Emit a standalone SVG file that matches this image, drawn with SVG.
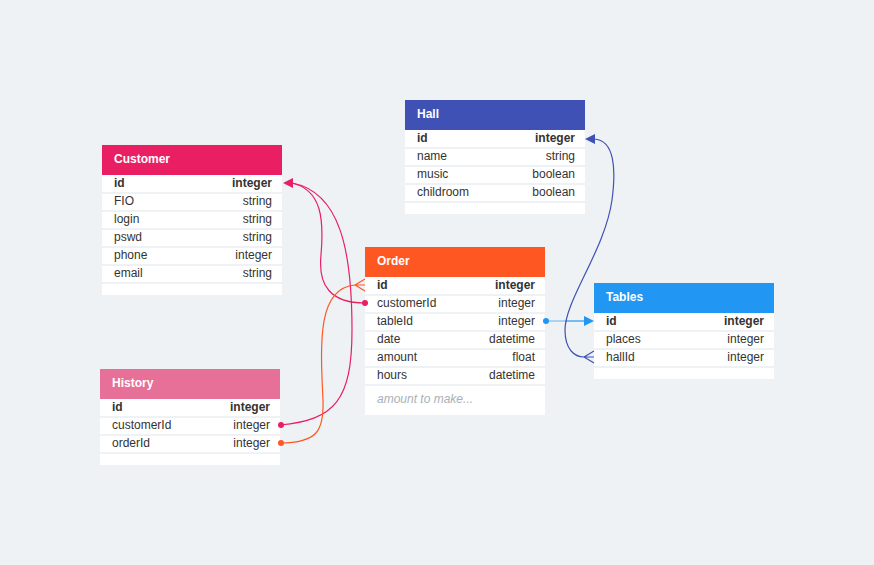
<svg xmlns="http://www.w3.org/2000/svg" width="874" height="565" viewBox="0 0 874 565">
<style>
text{font-family:"Liberation Sans",Arial,sans-serif;font-size:12px}
.body{fill:#ffffff}
.sep{stroke:#eef2f5;stroke-width:2}
.title{fill:#ffffff;font-weight:bold}
.f{fill:#333333}
.t{fill:#333333;text-anchor:end}
.pk{font-weight:bold}
.note{fill:#a9b0b8;font-style:italic}
.conn{fill:none;stroke-width:1.2}
</style>
<rect width="874" height="565" fill="#eef2f5"/>

<g id="customer">
<rect class="body" x="102" y="175" width="180" height="120"/>
<rect x="102" y="145" width="180" height="30" fill="#e91e63"/>
<text class="title" x="114" y="163">Customer</text>
<line class="sep" x1="102" y1="193" x2="282" y2="193"/>
<line class="sep" x1="102" y1="211" x2="282" y2="211"/>
<line class="sep" x1="102" y1="229" x2="282" y2="229"/>
<line class="sep" x1="102" y1="247" x2="282" y2="247"/>
<line class="sep" x1="102" y1="265" x2="282" y2="265"/>
<line class="sep" x1="102" y1="283" x2="282" y2="283"/>
<text class="f pk" x="114" y="187">id</text><text class="t pk" x="272" y="187">integer</text>
<text class="f" x="114" y="205">FIO</text><text class="t" x="272" y="205">string</text>
<text class="f" x="114" y="223">login</text><text class="t" x="272" y="223">string</text>
<text class="f" x="114" y="241">pswd</text><text class="t" x="272" y="241">string</text>
<text class="f" x="114" y="259">phone</text><text class="t" x="272" y="259">integer</text>
<text class="f" x="114" y="277">email</text><text class="t" x="272" y="277">string</text>
</g>

<g id="hall">
<rect class="body" x="405" y="130" width="180" height="84"/>
<rect x="405" y="100" width="180" height="30" fill="#3f51b5"/>
<text class="title" x="417" y="118">Hall</text>
<line class="sep" x1="405" y1="148" x2="585" y2="148"/>
<line class="sep" x1="405" y1="166" x2="585" y2="166"/>
<line class="sep" x1="405" y1="184" x2="585" y2="184"/>
<line class="sep" x1="405" y1="202" x2="585" y2="202"/>
<text class="f pk" x="417" y="142">id</text><text class="t pk" x="575" y="142">integer</text>
<text class="f" x="417" y="160">name</text><text class="t" x="575" y="160">string</text>
<text class="f" x="417" y="178">music</text><text class="t" x="575" y="178">boolean</text>
<text class="f" x="417" y="196">childroom</text><text class="t" x="575" y="196">boolean</text>
</g>

<g id="order">
<rect class="body" x="365" y="277" width="180" height="138"/>
<rect x="365" y="247" width="180" height="30" fill="#ff5722"/>
<text class="title" x="377" y="265">Order</text>
<line class="sep" x1="365" y1="295" x2="545" y2="295"/>
<line class="sep" x1="365" y1="313" x2="545" y2="313"/>
<line class="sep" x1="365" y1="331" x2="545" y2="331"/>
<line class="sep" x1="365" y1="349" x2="545" y2="349"/>
<line class="sep" x1="365" y1="367" x2="545" y2="367"/>
<line class="sep" x1="365" y1="385" x2="545" y2="385"/>
<text class="f pk" x="377" y="289">id</text><text class="t pk" x="535" y="289">integer</text>
<text class="f" x="377" y="307">customerId</text><text class="t" x="535" y="307">integer</text>
<text class="f" x="377" y="325">tableId</text><text class="t" x="535" y="325">integer</text>
<text class="f" x="377" y="343">date</text><text class="t" x="535" y="343">datetime</text>
<text class="f" x="377" y="361">amount</text><text class="t" x="535" y="361">float</text>
<text class="f" x="377" y="379">hours</text><text class="t" x="535" y="379">datetime</text>
<text class="note" x="377" y="403">amount to make...</text>
</g>

<g id="tables">
<rect class="body" x="594" y="313" width="180" height="66"/>
<rect x="594" y="283" width="180" height="30" fill="#2196f3"/>
<text class="title" x="606" y="301">Tables</text>
<line class="sep" x1="594" y1="331" x2="774" y2="331"/>
<line class="sep" x1="594" y1="349" x2="774" y2="349"/>
<line class="sep" x1="594" y1="367" x2="774" y2="367"/>
<text class="f pk" x="606" y="325">id</text><text class="t pk" x="764" y="325">integer</text>
<text class="f" x="606" y="343">places</text><text class="t" x="764" y="343">integer</text>
<text class="f" x="606" y="361">hallId</text><text class="t" x="764" y="361">integer</text>
</g>

<g id="history">
<rect class="body" x="100" y="399" width="180" height="66"/>
<rect x="100" y="369" width="180" height="30" fill="#e67098"/>
<text class="title" x="112" y="387">History</text>
<line class="sep" x1="100" y1="417" x2="280" y2="417"/>
<line class="sep" x1="100" y1="435" x2="280" y2="435"/>
<line class="sep" x1="100" y1="453" x2="280" y2="453"/>
<text class="f pk" x="112" y="411">id</text><text class="t pk" x="270" y="411">integer</text>
<text class="f" x="112" y="429">customerId</text><text class="t" x="270" y="429">integer</text>
<text class="f" x="112" y="447">orderId</text><text class="t" x="270" y="447">integer</text>
</g>

<g id="connectors">
<!-- Order.customerId -> Customer.id -->
<path class="conn" stroke="#e91e63" d="M365,303 C330,303 318,285 321,255 C324,220 322,190 292,183"/>
<circle cx="365" cy="303" r="3" fill="#e91e63"/>
<!-- History.customerId -> Customer.id -->
<path class="conn" stroke="#e91e63" d="M280,425 C335,420 352,400 352,330 C352,250 340,192 292,183"/>
<circle cx="281" cy="425" r="3" fill="#e91e63"/>
<polygon points="283,183 293,178 293,188" fill="#e91e63"/>
<!-- History.orderId -> Order.id -->
<path class="conn" stroke="#ff5722" d="M280,443 C318,443 324,430 323,400 C320,340 318,288 355,285"/>
<circle cx="281" cy="443" r="3" fill="#ff5722"/>
<path class="conn" stroke="#ff5722" d="M355,285 L365,279 M355,285 L365,285 M355,285 L365,291"/>
<!-- Order.tableId -> Tables.id -->
<path class="conn" stroke="#7fbdf5" stroke-width="1.5" d="M545,321 L565,321"/>
<path class="conn" stroke="#2196f3" stroke-width="1.5" d="M565,321 L585,321"/>
<circle cx="546" cy="321" r="3" fill="#2196f3"/>
<polygon points="594,321 584,316 584,326" fill="#2196f3"/>
<!-- Tables.hallId -> Hall.id -->
<path class="conn" stroke="#3f51b5" d="M594,139 C615,140 616,170 612,200 C605,250 565,300 565,330 C565,350 575,357 584,357"/>
<polygon points="585,139 595,134 595,144" fill="#3f51b5"/>
<path class="conn" stroke="#3f51b5" d="M584,357 L594,351 M584,357 L594,357 M584,357 L594,363"/>
</g>
</svg>
